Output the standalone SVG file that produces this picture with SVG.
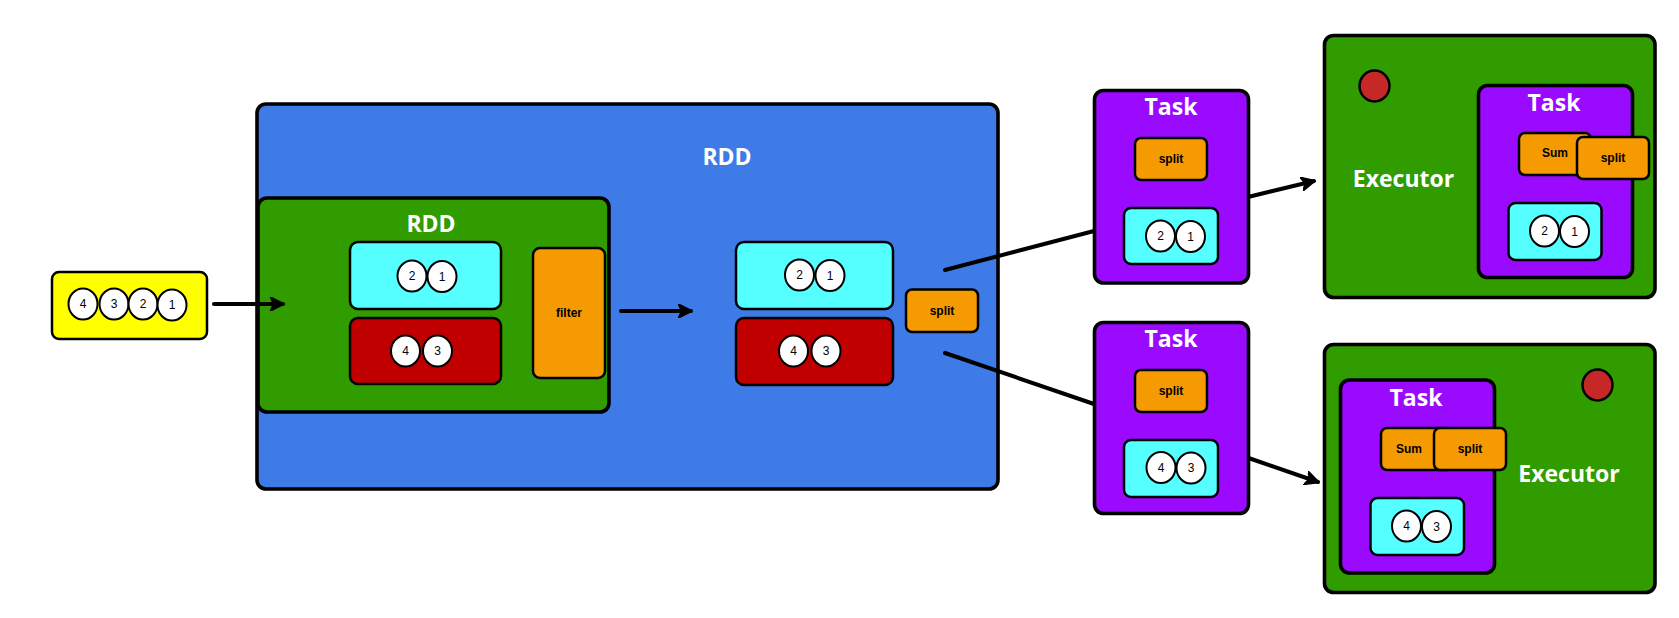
<svg xmlns="http://www.w3.org/2000/svg" width="1679" height="618" viewBox="0 0 1679 618">
<defs>
<style>
.box{stroke:#000;stroke-width:2.5}
.outer{stroke:#000;stroke-width:3.6}
.blue{fill:#3e7be6}
.green{fill:#309c00}
.yellow{fill:#ffff00}
.cyan{fill:#55ffff}
.red{fill:#c00000}
.orange{fill:#f59a00}
.purple{fill:#9a0aff}
.dot{fill:#c62828;stroke:#000;stroke-width:2.5}
.ball{fill:#fff;stroke:#000;stroke-width:2}
.num{font-family:"Liberation Sans",Arial,sans-serif;font-size:12px;fill:#000;text-anchor:middle;dominant-baseline:central}
.lbl{font-family:"Liberation Sans",Arial,sans-serif;font-size:12px;font-weight:bold;fill:#000;text-anchor:middle;dominant-baseline:central}
.title{font-family:"Open Sans","Noto Sans",sans-serif;font-size:23px;font-weight:bold;fill:#fff;text-anchor:middle}
.conn{stroke:#000;stroke-width:4;fill:none;stroke-linecap:round}
</style>
<marker id="arr" viewBox="0 0 10 10" refX="9" refY="5" markerWidth="3.6" markerHeight="3.6" orient="auto" markerUnits="strokeWidth">
<path d="M0,0 L10,5 L0,10 L2.5,5 z" fill="#000" stroke="#000" stroke-width="1" stroke-linejoin="round"/>
</marker>
</defs>
<rect width="1679" height="618" fill="#fff"/>

<g id="input">
<rect class="box yellow" x="52" y="272" width="155" height="67" rx="7"/>
<ellipse class="ball" cx="83" cy="304" rx="14.5" ry="15.5"/><text class="num" x="83" y="304">4</text>
<ellipse class="ball" cx="114" cy="304" rx="14.5" ry="15.5"/><text class="num" x="114" y="304">3</text>
<ellipse class="ball" cx="143" cy="304" rx="14.5" ry="15.5"/><text class="num" x="143" y="304">2</text>
<ellipse class="ball" cx="172" cy="305" rx="14.5" ry="15.5"/><text class="num" x="172" y="305">1</text>
</g>

<g id="rdd-outer">
<rect class="outer blue" x="257" y="104" width="741" height="385" rx="9"/>
<text class="title" x="727" y="165">RDD</text>
</g>

<g id="rdd-inner">
<rect class="outer green" x="258" y="198" width="351" height="214" rx="9"/>
<text class="title" x="431" y="232">RDD</text>
<rect class="box cyan" x="350" y="242" width="151" height="67" rx="8"/>
<ellipse class="ball" cx="412" cy="276" rx="14.5" ry="15.5"/><text class="num" x="412" y="276">2</text>
<ellipse class="ball" cx="442" cy="276.5" rx="14.5" ry="15.5"/><text class="num" x="442" y="276.5">1</text>
<rect class="box red" x="350" y="318" width="151" height="66" rx="8"/>
<ellipse class="ball" cx="405.5" cy="351" rx="14.5" ry="15.5"/><text class="num" x="405.5" y="351">4</text>
<ellipse class="ball" cx="437.5" cy="351" rx="14.5" ry="15.5"/><text class="num" x="437.5" y="351">3</text>
<rect class="box orange" x="533" y="248" width="72" height="130" rx="7"/>
<text class="lbl" x="569" y="313">filter</text>
</g>

<g id="rdd-result">
<rect class="box cyan" x="736" y="242" width="157" height="67" rx="8"/>
<ellipse class="ball" cx="799.5" cy="275" rx="14.5" ry="15.5"/><text class="num" x="799.5" y="275">2</text>
<ellipse class="ball" cx="830" cy="275.5" rx="14.5" ry="15.5"/><text class="num" x="830" y="275.5">1</text>
<rect class="box red" x="736" y="318" width="157" height="67" rx="8"/>
<ellipse class="ball" cx="793.5" cy="351" rx="14.5" ry="15.5"/><text class="num" x="793.5" y="351">4</text>
<ellipse class="ball" cx="826" cy="351" rx="14.5" ry="15.5"/><text class="num" x="826" y="351">3</text>
</g>

<g id="split-main">
<rect class="box orange" x="906" y="289.5" width="72" height="42.5" rx="6"/>
<text class="lbl" x="942" y="311">split</text>
</g>

<g id="task1">
<rect class="outer purple" x="1094.5" y="90.5" width="154" height="192.5" rx="9"/>
<text class="title" x="1171" y="115">Task</text>
<rect class="box orange" x="1135" y="138" width="72" height="42" rx="6"/>
<text class="lbl" x="1171" y="159">split</text>
<rect class="box cyan" x="1124" y="208" width="94" height="56" rx="7"/>
<ellipse class="ball" cx="1160.5" cy="236" rx="14.5" ry="15.5"/><text class="num" x="1160.5" y="236">2</text>
<ellipse class="ball" cx="1190.5" cy="236.5" rx="14.5" ry="15.5"/><text class="num" x="1190.5" y="236.5">1</text>
</g>

<g id="task2">
<rect class="outer purple" x="1094.5" y="322.5" width="154" height="191" rx="9"/>
<text class="title" x="1171" y="347">Task</text>
<rect class="box orange" x="1135" y="370" width="72" height="42" rx="6"/>
<text class="lbl" x="1171" y="391">split</text>
<rect class="box cyan" x="1124" y="440" width="94" height="57" rx="7"/>
<ellipse class="ball" cx="1161" cy="467.5" rx="14.5" ry="15.5"/><text class="num" x="1161" y="467.5">4</text>
<ellipse class="ball" cx="1191" cy="468" rx="14.5" ry="15.5"/><text class="num" x="1191" y="468">3</text>
</g>

<g id="executor1">
<rect class="outer green" x="1324.5" y="35.5" width="330.5" height="262" rx="9"/>
<ellipse class="dot" cx="1374.5" cy="86" rx="15" ry="15.5"/>
<text class="title" x="1403.5" y="187">Executor</text>
<rect class="outer purple" x="1478.5" y="85.5" width="154" height="192" rx="9"/>
<text class="title" x="1554" y="111">Task</text>
<rect class="box orange" x="1519" y="133" width="72" height="42" rx="6"/>
<text class="lbl" x="1555" y="153">Sum</text>
<rect class="box orange" x="1577" y="137" width="72" height="42" rx="6"/>
<text class="lbl" x="1613" y="158">split</text>
<rect class="box cyan" x="1508.5" y="203" width="93" height="57" rx="7"/>
<ellipse class="ball" cx="1544.5" cy="231" rx="14.5" ry="15.5"/><text class="num" x="1544.5" y="231">2</text>
<ellipse class="ball" cx="1574.5" cy="231.5" rx="14.5" ry="15.5"/><text class="num" x="1574.5" y="231.5">1</text>
</g>

<g id="executor2">
<rect class="outer green" x="1324.5" y="344.5" width="330.5" height="248" rx="9"/>
<ellipse class="dot" cx="1597.5" cy="385" rx="15" ry="15.5"/>
<text class="title" x="1569" y="482">Executor</text>
<rect class="outer purple" x="1340.5" y="380" width="154" height="193" rx="9"/>
<text class="title" x="1416" y="406">Task</text>
<rect class="box orange" x="1381" y="428" width="72" height="42" rx="6"/>
<text class="lbl" x="1409" y="449">Sum</text>
<rect class="box orange" x="1434" y="428" width="72" height="42" rx="6"/>
<text class="lbl" x="1470" y="449">split</text>
<rect class="box cyan" x="1370.5" y="498" width="93.5" height="57" rx="7"/>
<ellipse class="ball" cx="1406.5" cy="526" rx="14.5" ry="15.5"/><text class="num" x="1406.5" y="526">4</text>
<ellipse class="ball" cx="1436.5" cy="526.5" rx="14.5" ry="15.5"/><text class="num" x="1436.5" y="526.5">3</text>
</g>

<g id="connectors">
<line class="conn" x1="214" y1="304" x2="283" y2="304" marker-end="url(#arr)"/>
<line class="conn" x1="621" y1="311" x2="691" y2="311" marker-end="url(#arr)"/>
<line class="conn" x1="945" y1="270" x2="1094" y2="231"/>
<line class="conn" x1="945" y1="353" x2="1094" y2="404"/>
<line class="conn" x1="1250" y1="196.5" x2="1314" y2="181" marker-end="url(#arr)"/>
<line class="conn" x1="1250" y1="458.5" x2="1318" y2="482" marker-end="url(#arr)"/>
</g>
</svg>
